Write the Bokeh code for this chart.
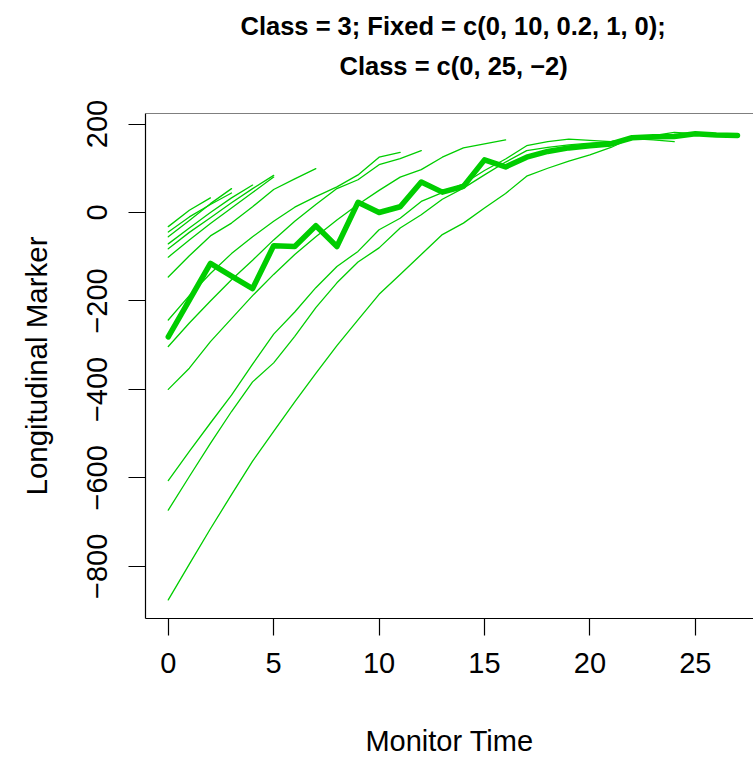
from bokeh.embed import file_html
from bokeh.models import FixedTicker, Range1d, Span, Title
from bokeh.plotting import figure
from bokeh.resources import INLINE

# Individual subject trajectories (value at monitor times 0, 1, 2, ...)
subj_01 = [-32, 5, 33]
subj_02 = [-44, -10, 18, 44]
subj_03 = [-55, -18, 20, 54]
subj_04 = [-71, -35, 0, 33, 62]
subj_05 = [-82, -45, -12, 22, 54, 84]
subj_06 = [-101, -62, -25, 10, 45, 80]
subj_07 = [-146, -98, -53, -24, 13, 52, 76, 99]
subj_08 = [-243, -188, -138, -93, -55, -20, 12, 36, 58, 85, 125, 136]
subj_09 = [-303, -250, -200, -152, -108, -62, -20, 18, 54, 74, 108, 122, 140]
subj_10 = [-400, -352, -292, -240, -188, -140, -95, -55, -17, 18, 50, 80, 97,
           125, 146, 155, 164]
subj_11 = [-606, -540, -476, -413, -343, -275, -225, -170, -122, -88, -39, -13,
           25, 45, 65, 95, 121, 151, 160, 166, 163, 160, 167, 164, 160]
subj_12 = [-673, -597, -522, -450, -383, -340, -280, -215, -159, -112, -80, -35,
           -5, 30, 55, 85, 114, 140, 147, 153, 157, 160, 168, 174, 181, 178, 176]
subj_13 = [-876, -795, -715, -638, -562, -495, -428, -364, -301, -243, -185,
           -140, -95, -50, -24, 10, 43, 82, 100, 116, 130, 147, 169, 170]

subjects = [subj_01, subj_02, subj_03, subj_04, subj_05, subj_06, subj_07,
            subj_08, subj_09, subj_10, subj_11, subj_12, subj_13]

# Highlighted subject
highlight = [-281, -198, -115, -144, -172, -75, -77, -30, -77, 23, 0, 13, 69,
             46, 59, 119, 103, 125, 138, 146, 151, 155, 169, 171, 172, 178,
             175, 174]

x_ticks = [0, 5, 10, 15, 20, 25]
y_ticks = [-800, -600, -400, -200, 0, 200]
y_tick_labels = ["\u2212800", "\u2212600", "\u2212400", "\u2212200", "0", "200"]

title_1 = "Class = 3; Fixed = c(0, 10, 0.2, 1, 0);"
title_2 = "Class = c(0, 25, \u22122)"
x_label = "Monitor Time"
y_label = "Longitudinal Marker"

GREEN = "#00CD00"
FONT = "Liberation Sans"

X0, X1 = -1.08, 27.76
Y0, Y1 = -918.0, 223.8

p = figure(width=753, height=759, output_backend="svg", toolbar_location=None,
           title=None,
           x_range=Range1d(X0, X1), y_range=Range1d(Y0, Y1),
           min_border_left=145, min_border_right=0,
           min_border_top=113, min_border_bottom=136)

p.background_fill_color = "white"
p.border_fill_color = "white"
p.outline_line_color = None
p.xgrid.visible = False
p.ygrid.visible = False

for ys in subjects:
    p.line(list(range(len(ys))), ys, line_color=GREEN, line_width=1.3,
           line_join="round", line_cap="round")

p.line(list(range(len(highlight))), highlight, line_color=GREEN, line_width=5.5,
       line_join="round", line_cap="round")

# top edge of the plot box
p.add_layout(Span(location=Y1, dimension="width", line_color="black",
                  line_width=1.2))

for ax in (p.xaxis[0], p.yaxis[0]):
    ax.axis_line_color = "black"
    ax.axis_line_width = 1.2
    ax.major_tick_line_color = "black"
    ax.major_tick_line_width = 1.2
    ax.major_tick_in = 0
    ax.major_tick_out = 17
    ax.minor_tick_line_color = None
    ax.major_label_text_font = FONT
    ax.major_label_text_font_size = "29px"
    ax.major_label_text_color = "black"
    ax.axis_label_text_font = FONT
    ax.axis_label_text_font_style = "normal"
    ax.axis_label_text_color = "black"

p.xaxis.ticker = FixedTicker(ticks=x_ticks)
p.xaxis.major_label_standoff = 17
p.xaxis.axis_label = x_label
p.xaxis.axis_label_text_font_size = "29px"
p.xaxis.axis_label_standoff = 49

p.yaxis.ticker = FixedTicker(ticks=y_ticks)
p.yaxis.major_label_overrides = dict(zip(y_ticks, y_tick_labels))
p.yaxis.major_label_orientation = "vertical"
p.yaxis.major_label_standoff = 21
p.yaxis.axis_label = y_label
p.yaxis.axis_label_text_font_size = "29.5px"
p.yaxis.axis_label_standoff = 32

# heading panels stack outward from the frame: a blank spacer first,
# then the second heading line, then the first
p.add_layout(Title(text=" ", standoff=20, text_font=FONT,
                   text_font_size="1px"), "above")
p.add_layout(Title(text=title_2, align="left", offset=194, standoff=21,
                   text_font=FONT, text_font_size="25.5px",
                   text_font_style="bold", text_color="black"), "above")
p.add_layout(Title(text=title_1, align="left", offset=95, standoff=0,
                   text_font=FONT, text_font_size="25.5px",
                   text_font_style="bold", text_color="black"), "above")

open("out.html", "w").write(file_html(p, INLINE))
